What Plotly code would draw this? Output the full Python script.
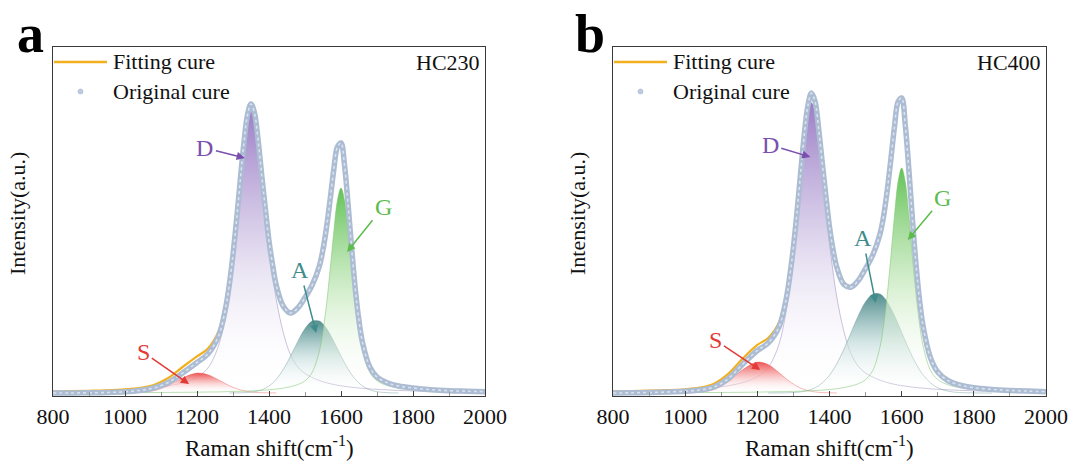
import plotly.graph_objects as go

# ---------------- data (intensity in arbitrary units) ----------------
raman_shift = [800, 850, 900, 950, 1000, 1040, 1080, 1120, 1160, 1200,
               1230, 1260, 1280, 1290, 1300, 1310, 1320, 1330, 1340, 1350,
               1360, 1370, 1380, 1390, 1400, 1410, 1420, 1440, 1460, 1480,
               1500, 1520, 1540, 1550, 1560, 1570, 1580, 1590, 1600, 1610,
               1620, 1630, 1640, 1650, 1660, 1680, 1700, 1730, 1760, 1800,
               1850, 1900, 1950, 2000]

# HC230
hc230_original = [0.0, 0.0, 0.2, 0.5, 1.2, 2.5, 5.0, 10.5, 20.0, 30.5,
                  39.0, 57.0, 86.0, 109.0, 138.5, 173.5, 212.0, 249.0, 277.5, 289.0,
                  279.5, 252.0, 217.0, 184.0, 152.0, 128.0, 108.0, 86.5, 80.0, 85.0,
                  95.5, 108.0, 127.0, 143.5, 166.0, 194.0, 223.5, 246.0, 250.0, 227.0,
                  187.0, 143.0, 103.0, 72.0, 50.0, 26.0, 16.0, 10.0, 7.0, 5.0,
                  3.3, 2.3, 1.8, 1.3]
hc230_S = [0, 0, 0, 0, 0.1, 0.5, 2.3, 7.3, 15.1, 19.9,
           18.3, 13.1, 9.2, 7.3, 5.7, 4.3, 3.2, 2.3, 1.6, 1.1,
           0.7, 0.5, 0.3, 0.2, 0.1, 0.1, 0, 0, 0, 0,
           0, 0, 0, 0, 0, 0, 0, 0, 0, 0,
           0, 0, 0, 0, 0, 0, 0, 0, 0, 0,
           0, 0, 0, 0]
hc230_D = [1.3, 1.6, 1.9, 2.4, 3.1, 4.0, 5.2, 7.1, 10.2, 15.9,
           24.9, 47.5, 80.2, 104.6, 134.8, 170.2, 208.4, 245.0, 272.6, 283.0,
           274.0, 248.0, 214.0, 180.0, 146.0, 118.0, 94.0, 60.0, 38.0, 26.0,
           19.5, 15.5, 12.5, 11.3, 10.2, 9.3, 8.5, 7.8, 7.2, 6.7,
           6.2, 5.8, 5.4, 5.0, 4.7, 4.1, 3.6, 3.1, 2.6, 2.1,
           1.7, 1.4, 1.2, 1.0]
hc230_A = [0, 0, 0, 0, 0, 0, 0, 0, 0, 0,
           0, 0, 0, 0, 0.1, 0.1, 0.2, 0.3, 0.5, 0.8,
           1.3, 2.1, 3.2, 4.8, 7.0, 9.9, 13.6, 23.7, 37.0, 51.6,
           64.4, 72.0, 72.0, 69.1, 64.4, 58.5, 51.6, 44.3, 37.0, 30.0,
           23.7, 18.2, 13.6, 9.9, 7.0, 3.2, 1.3, 0.3, 0, 0,
           0, 0, 0, 0]
hc230_G = [0.2, 0.2, 0.3, 0.3, 0.4, 0.4, 0.5, 0.6, 0.7, 0.8,
           1.0, 1.1, 1.3, 1.4, 1.5, 1.6, 1.7, 1.8, 1.9, 2.1,
           2.3, 2.5, 2.7, 2.9, 3.2, 3.6, 3.9, 4.9, 6.4, 8.5,
           12.2, 20.6, 42.1, 61.9, 89.4, 123.8, 161.1, 192.4, 205.0, 192.4,
           161.1, 123.8, 89.4, 61.9, 42.1, 20.6, 12.2, 7.3, 4.9, 3.2,
           2.1, 1.5, 1.1, 0.8]

# HC400
hc400_original = [0.0, 0.2, 0.5, 1.0, 1.8, 3.0, 6.0, 14.5, 29.0, 42.5,
                  50.0, 66.0, 94.0, 117.0, 146.0, 181.0, 220.0, 258.0, 287.0, 300.0,
                  291.5, 264.0, 230.0, 197.0, 166.0, 143.0, 126.0, 108.5, 106.0, 112.5,
                  124.5, 138.0, 159.0, 177.0, 202.5, 233.5, 266.0, 291.0, 295.0, 268.0,
                  223.0, 173.0, 127.5, 91.5, 65.5, 35.0, 21.0, 12.0, 8.0, 5.2,
                  3.6, 2.6, 1.9, 1.3]
hc400_S = [0, 0, 0, 0, 0.1, 0.7, 3.5, 11.4, 23.4, 30.9,
           28.4, 20.4, 14.2, 11.4, 8.9, 6.7, 4.9, 3.5, 2.5, 1.7,
           1.1, 0.7, 0.4, 0.3, 0.2, 0.1, 0, 0, 0, 0,
           0, 0, 0, 0, 0, 0, 0, 0, 0, 0,
           0, 0, 0, 0, 0, 0, 0, 0, 0, 0,
           0, 0, 0, 0]
hc400_D = [1.3, 1.6, 2.0, 2.5, 3.2, 4.1, 5.3, 7.3, 10.5, 16.3,
           25.5, 48.7, 82.2, 107.2, 138.1, 174.4, 213.6, 251.1, 279.3, 290.0,
           280.9, 254.2, 219.4, 184.5, 149.7, 121.0, 96.4, 61.5, 39.0, 26.7,
           20.0, 15.9, 12.8, 11.6, 10.5, 9.5, 8.7, 8.0, 7.4, 6.9,
           6.4, 5.9, 5.5, 5.1, 4.8, 4.2, 3.7, 3.2, 2.7, 2.2,
           1.7, 1.4, 1.2, 1.0]
hc400_A = [0, 0, 0, 0, 0, 0, 0, 0, 0, 0,
           0, 0.1, 0.2, 0.3, 0.5, 0.7, 1.1, 1.7, 2.5, 3.7,
           5.2, 7.3, 10.1, 13.5, 17.8, 23.0, 29.1, 43.8, 60.7, 77.5,
           91.2, 99.0, 99.0, 96.0, 91.2, 84.9, 77.5, 69.3, 60.7, 52.0,
           43.8, 36.0, 29.1, 23.0, 17.8, 10.1, 5.2, 1.7, 0.5, 0.1,
           0, 0, 0, 0]
hc400_G = [0.2, 0.3, 0.3, 0.3, 0.4, 0.5, 0.5, 0.6, 0.7, 0.9,
           1.1, 1.3, 1.4, 1.5, 1.6, 1.7, 1.8, 2.0, 2.1, 2.3,
           2.5, 2.7, 2.9, 3.2, 3.5, 3.9, 4.3, 5.4, 7.0, 9.3,
           13.4, 22.6, 46.2, 67.9, 98.1, 135.9, 176.8, 211.2, 225.0, 211.2,
           176.8, 135.9, 98.1, 67.9, 46.2, 22.6, 13.4, 8.0, 5.4, 3.5,
           2.3, 1.6, 1.2, 0.9]

x_ticks = [800, 1000, 1200, 1400, 1600, 1800, 2000]
sample_names = ["HC230", "HC400"]
panel_letters = ["a", "b"]
peak_names = ["S", "D", "A", "G"]

# ---------------- styling ----------------
W, H = 1073, 468
SERIF = "Liberation Serif, Times New Roman, serif"
FIT_COLOR = "#f2b01e"
ORIG_EDGE = "rgb(172,188,211)"
ORIG_CORE = "rgb(218,226,238)"

peak_style = {
    "D": dict(line="rgba(120,100,165,0.55)", text="#7a4fae",
              cs=[[0, "rgba(255,255,255,0)"], [0.45, "rgba(224,216,238,0.75)"],
                  [1, "rgba(150,120,195,0.95)"]]),
    "G": dict(line="rgba(120,195,105,0.75)", text="#5cbc4c",
              cs=[[0, "rgba(255,255,255,0)"], [0.45, "rgba(208,237,200,0.75)"],
                  [1, "rgba(100,194,88,1)"]]),
    "A": dict(line="rgba(95,140,140,0.55)", text="#3f8c8c",
              cs=[[0, "rgba(255,255,255,0)"], [0.5, "rgba(196,220,220,0.7)"],
                  [1, "rgba(72,135,135,0.95)"]]),
    "S": dict(line="rgba(235,90,90,0.6)", text="#e23a36",
              cs=[[0, "rgba(255,255,255,0)"], [0.5, "rgba(248,190,190,0.75)"],
                  [1, "rgba(238,82,82,1)"]]),
}

# plot-area pixel boxes
x_dom = [(53, 485), (613, 1046)]
y_top, y_bot = 47, 396


def px2paper_x(px):
    return px / W


def px2paper_y(py):
    return 1 - py / H


def trim(xs, ys):
    n = len(ys)
    keep = [i for i in range(n)
            if ys[i] > 0 or (i > 0 and ys[i - 1] > 0) or (i < n - 1 and ys[i + 1] > 0)]
    return [xs[i] for i in keep], [ys[i] for i in keep]


panels = [
    dict(orig=hc230_original, comps={"S": hc230_S, "D": hc230_D, "A": hc230_A, "G": hc230_G}),
    dict(orig=hc400_original, comps={"S": hc400_S, "D": hc400_D, "A": hc400_A, "G": hc400_G}),
]

# annotation anchor positions (data coords): head (x, y), text (x, y)
label_pos = [
    {"D": ((1333, 235), (1222, 245)), "G": ((1617, 141), (1717, 186)),
     "A": ((1531, 60), (1486, 123)), "S": ((1178, 9), (1050, 41))},
    {"D": ((1347, 236), (1236, 248)), "G": ((1617, 153), (1714, 195)),
     "A": ((1528, 90), (1492, 155)), "S": ((1208, 23), (1083, 53))},
]

fig = go.Figure()
annotations = []
shapes = []

for p, panel in enumerate(panels):
    xa = "x" if p == 0 else "x2"
    ya = "y" if p == 0 else "y2"
    comps = panel["comps"]
    for name in ["D", "S", "A", "G"]:
        xs, ys = trim(raman_shift, comps[name])
        st = peak_style[name]
        fig.add_trace(go.Scatter(
            x=xs, y=ys, mode="lines", line=dict(color=st["line"], width=0.7, shape="spline"),
            fill="tozeroy", fillgradient=dict(type="vertical", colorscale=st["cs"]),
            xaxis=xa, yaxis=ya, showlegend=False, hoverinfo="skip"))
    fit = [round(sum(comps[n][i] for n in peak_names), 2) for i in range(len(raman_shift))]
    fig.add_trace(go.Scatter(x=raman_shift, y=fit, mode="lines",
                             line=dict(color=FIT_COLOR, width=2.2, shape="spline"),
                             xaxis=xa, yaxis=ya, showlegend=False))
    fig.add_trace(go.Scatter(x=raman_shift, y=panel["orig"], mode="lines",
                             line=dict(color=ORIG_EDGE, width=5.5, shape="spline"),
                             xaxis=xa, yaxis=ya, showlegend=False))
    fig.add_trace(go.Scatter(x=raman_shift, y=panel["orig"], mode="lines",
                             line=dict(color=ORIG_CORE, width=1.6, shape="spline", dash="dot"),
                             xaxis=xa, yaxis=ya, showlegend=False))

    # peak labels with arrows
    for name in ["D", "G", "A", "S"]:
        (hx, hy), (tx, ty) = label_pos[p][name]
        c = peak_style[name]["text"]
        annotations.append(dict(
            x=hx, y=hy, xref=xa, yref=ya, ax=tx, ay=ty, axref=xa, ayref=ya,
            text=name, showarrow=True, arrowhead=2, arrowsize=1.1, arrowwidth=1.5,
            arrowcolor=c, standoff=0, startstandoff=1,
            font=dict(family=SERIF, size=24, color=c)))

    x0, x1 = x_dom[p]
    # legend (drawn manually)
    shapes.append(dict(type="line", xref="paper", yref="paper",
                       x0=px2paper_x(x0 + 1), x1=px2paper_x(x0 + 54),
                       y0=px2paper_y(62), y1=px2paper_y(62),
                       line=dict(color=FIT_COLOR, width=2.5)))
    shapes.append(dict(type="circle", xref="paper", yref="paper",
                       x0=px2paper_x(x0 + 25), x1=px2paper_x(x0 + 30),
                       y0=px2paper_y(89), y1=px2paper_y(94),
                       fillcolor="rgb(190,203,222)", line=dict(color="rgb(165,180,205)", width=0.6)))
    annotations.append(dict(x=px2paper_x(x0 + 58), y=px2paper_y(62), xref="paper", yref="paper",
                            text="Fitting cure", showarrow=False, xanchor="left", yanchor="middle",
                            font=dict(family=SERIF, size=22, color="#111")))
    annotations.append(dict(x=px2paper_x(x0 + 58), y=px2paper_y(92), xref="paper", yref="paper",
                            text="Original cure", showarrow=False, xanchor="left", yanchor="middle",
                            font=dict(family=SERIF, size=22, color="#111")))
    # sample name
    annotations.append(dict(x=px2paper_x(x1 - 3), y=px2paper_y(63), xref="paper", yref="paper",
                            text=sample_names[p], showarrow=False, xanchor="right", yanchor="middle",
                            font=dict(family=SERIF, size=22, color="#111")))
    # panel letter
    annotations.append(dict(x=px2paper_x(x0 - 23), y=px2paper_y(34), xref="paper", yref="paper",
                            text="<b>%s</b>" % panel_letters[p], showarrow=False,
                            xanchor="center", yanchor="middle",
                            font=dict(family=SERIF, size=54, color="#000")))
    # axis titles
    annotations.append(dict(x=px2paper_x((x0 + x1) / 2), y=px2paper_y(446), xref="paper", yref="paper",
                            text="Raman shift(cm<sup>-1</sup>)", showarrow=False,
                            xanchor="center", yanchor="middle",
                            font=dict(family=SERIF, size=23, color="#111")))
    annotations.append(dict(x=px2paper_x(x0 - 35), y=px2paper_y(214), xref="paper", yref="paper",
                            text="Intensity(a.u.)", showarrow=False, textangle=-90,
                            xanchor="center", yanchor="middle",
                            font=dict(family=SERIF, size=22, color="#111")))

xaxis_common = dict(range=[800, 2000], tickvals=x_ticks, ticks="inside", ticklen=5,
                    tickwidth=1.2, tickcolor="#444", showgrid=False, zeroline=False,
                    showline=True, mirror=True, linecolor="#3a3a3a", linewidth=1.4,
                    tickfont=dict(family=SERIF, size=22, color="#111"),
                    minor=dict(dtick=100, ticks="inside", ticklen=4, tickcolor="#999", tickwidth=1),
                    automargin=False, fixedrange=True)
yaxis_common = dict(range=[-3, 346], showticklabels=False, ticks="", showgrid=False,
                    zeroline=False, showline=True, mirror=True, linecolor="#3a3a3a",
                    linewidth=1.4, automargin=False, fixedrange=True)

fig.update_layout(
    width=W, height=H, margin=dict(l=0, r=0, t=0, b=0, pad=0),
    paper_bgcolor="white", plot_bgcolor="white",
    xaxis=dict(domain=[px2paper_x(x_dom[0][0]), px2paper_x(x_dom[0][1])], anchor="y", **xaxis_common),
    xaxis2=dict(domain=[px2paper_x(x_dom[1][0]), px2paper_x(x_dom[1][1])], anchor="y2", **xaxis_common),
    yaxis=dict(domain=[px2paper_y(y_bot), px2paper_y(y_top)], anchor="x", **yaxis_common),
    yaxis2=dict(domain=[px2paper_y(y_bot), px2paper_y(y_top)], anchor="x2", **yaxis_common),
    annotations=annotations, shapes=shapes, showlegend=False,
)

fig.write_html("out.html", config={"responsive": False, "displayModeBar": False},
               post_script="document.body.style.margin='0px';document.body.style.overflow='hidden';")
